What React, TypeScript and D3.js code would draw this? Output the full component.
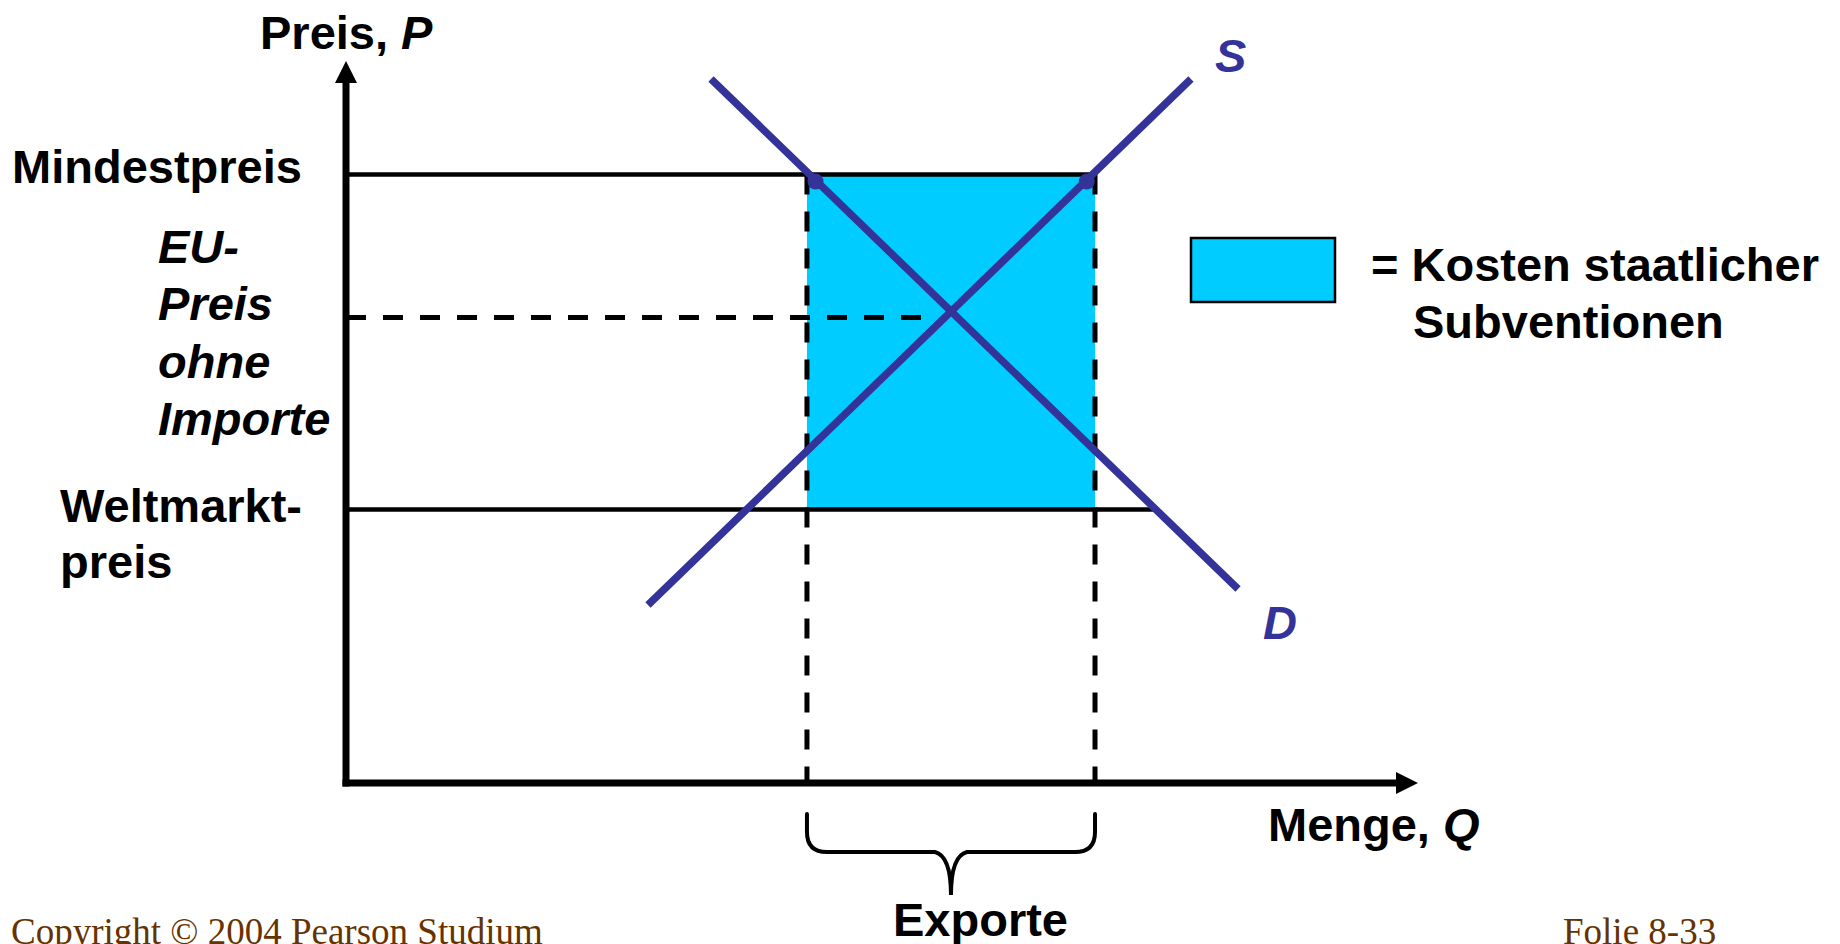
import React from "react";
import * as d3 from "d3";

// ---- Data (abstract units: quantity 0..100, price 0..100) ----
const demandQ = [34.05, 83.21];
const demandP = [97.5, 26.87];
const supplyQ = [28.17, 78.82];
const supplyP = [24.65, 97.5];
const minPrice = 84.28; // Mindestpreis
const euPrice = 64.47; // EU-Preis ohne Importe
const worldPrice = 37.88; // Weltmarktpreis
const exportQ = [43.0, 69.87]; // Exporte range
const minPriceLineEndQ = 69.87;
const worldLineEndQ = 75.6;
const euLineEndQ = 55.2;
const cornerDotQ = [43.8, 69.1];
const cornerDotP = 83.3;

const yLabelLines = ["EU-", "Preis", "ohne", "Importe"];
const worldLabelLines = ["Weltmarkt-", "preis"];
const legendLines = ["= Kosten staatlicher", "Subventionen"];

const W = 1840;
const H = 944;
const BLUE = "#333399";
const CYAN = "#00CCFF";
const FONT = "'Liberation Sans', Arial, Helvetica, sans-serif";
const SERIF = "'Liberation Serif', 'Times New Roman', serif";

export default function App() {
  const x = d3.scaleLinear().domain([0, 100]).range([346, 1418]);
  const y = d3.scaleLinear().domain([0, 100]).range([783, 61]);

  const line = d3
    .line<[number, number]>()
    .x((d) => x(d[0]))
    .y((d) => y(d[1]));

  const demandPts: [number, number][] = demandQ.map((q, i) => [q, demandP[i]]);
  const supplyPts: [number, number][] = supplyQ.map((q, i) => [q, supplyP[i]]);

  // brace
  const bx0 = x(exportQ[0]);
  const bx1 = x(exportQ[1]);
  const bmid = (bx0 + bx1) / 2;
  const bTop = 814;
  const bH = 852;
  const bTip = 895;
  const brace = d3.path();
  brace.moveTo(bx0, bTop);
  brace.lineTo(bx0, bH - 20);
  brace.quadraticCurveTo(bx0, bH, bx0 + 20, bH);
  brace.lineTo(bmid - 16, bH);
  brace.quadraticCurveTo(bmid, bH + 4, bmid, bTip);
  brace.quadraticCurveTo(bmid, bH + 4, bmid + 16, bH);
  brace.lineTo(bx1 - 20, bH);
  brace.quadraticCurveTo(bx1, bH, bx1, bH - 20);
  brace.lineTo(bx1, bTop);

  const boldText = {
    fontFamily: FONT,
    fontWeight: 700,
    fontSize: 47,
    fill: "#000",
  } as const;

  return (
    <div style={{ position: "absolute", left: 0, top: 0 }}>
      <svg width={W} height={H} style={{ display: "block", background: "#fff" }}>
        {/* subsidy rectangle */}
        <rect
          x={x(exportQ[0])}
          y={y(minPrice)}
          width={x(exportQ[1]) - x(exportQ[0])}
          height={y(worldPrice) - y(minPrice)}
          fill={CYAN}
        />
        {/* horizontal price lines */}
        <line x1={x(0)} x2={x(minPriceLineEndQ)} y1={y(minPrice)} y2={y(minPrice)} stroke="#000" strokeWidth={4.5} />
        <line x1={x(0)} x2={x(worldLineEndQ)} y1={y(worldPrice)} y2={y(worldPrice)} stroke="#000" strokeWidth={4.5} />
        <line
          x1={x(0)}
          x2={x(euLineEndQ)}
          y1={y(euPrice)}
          y2={y(euPrice)}
          stroke="#000"
          strokeWidth={5}
          strokeDasharray="20 17"
        />
        {/* vertical dashed lines */}
        {exportQ.map((q, i) => (
          <line
            key={i}
            x1={x(q)}
            x2={x(q)}
            y1={y(minPrice)}
            y2={y(0)}
            stroke="#000"
            strokeWidth={5}
            strokeDasharray="20 17"
          />
        ))}
        {/* supply & demand */}
        <path d={line(demandPts) || ""} stroke={BLUE} strokeWidth={7.5} fill="none" />
        <path d={line(supplyPts) || ""} stroke={BLUE} strokeWidth={7.5} fill="none" />
        {cornerDotQ.map((q, i) => (
          <circle key={i} cx={x(q)} cy={y(cornerDotP)} r={8} fill={BLUE} />
        ))}
        {/* axes */}
        <line x1={x(0)} x2={x(0)} y1={y(0) + 3.5} y2={y(100) + 20} stroke="#000" strokeWidth={7} />
        <path
          d={`M${x(0)},${y(100)} L${x(0) - 11},${y(100) + 22} L${x(0) + 11},${y(100) + 22} Z`}
          fill="#000"
        />
        <line x1={x(0) - 3.5} x2={x(100) - 18} y1={y(0)} y2={y(0)} stroke="#000" strokeWidth={7} />
        <path
          d={`M${x(100)},${y(0)} L${x(100) - 22},${y(0) - 11} L${x(100) - 22},${y(0) + 11} Z`}
          fill="#000"
        />
        {/* brace */}
        <path d={brace.toString()} stroke="#000" strokeWidth={4} fill="none" strokeLinecap="round" />

        {/* labels */}
        <text x={260} y={49} {...boldText}>
          Preis, <tspan fontStyle="italic">P</tspan>
        </text>
        <text x={12} y={183} {...boldText}>
          Mindestpreis
        </text>
        {yLabelLines.map((t, i) => (
          <text key={t} x={158} y={263 + i * 57.3} {...boldText} fontStyle="italic">
            {t}
          </text>
        ))}
        {worldLabelLines.map((t, i) => (
          <text key={t} x={60} y={522 + i * 56} {...boldText}>
            {t}
          </text>
        ))}
        <text x={1215} y={72} {...boldText} fontStyle="italic" fill={BLUE}>
          S
        </text>
        <text x={1263} y={639} {...boldText} fontStyle="italic" fill={BLUE}>
          D
        </text>
        <text x={1268} y={841} {...boldText}>
          Menge, <tspan fontStyle="italic">Q</tspan>
        </text>
        <text x={893} y={936} {...boldText}>
          Exporte
        </text>

        {/* legend */}
        <rect x={1191} y={238} width={144} height={64} fill={CYAN} stroke="#000" strokeWidth={2.5} />
        <text x={1371} y={281} {...boldText}>
          {legendLines[0]}
        </text>
        <text x={1413} y={338} {...boldText}>
          {legendLines[1]}
        </text>

        {/* footer */}
        <text x={11} y={944} fontFamily={SERIF} fontSize={37} fill="#663300">
          Copyright © 2004 Pearson Studium
        </text>
        <text x={1563} y={944} fontFamily={SERIF} fontSize={37} fill="#663300">
          Folie 8-33
        </text>
      </svg>
    </div>
  );
}
